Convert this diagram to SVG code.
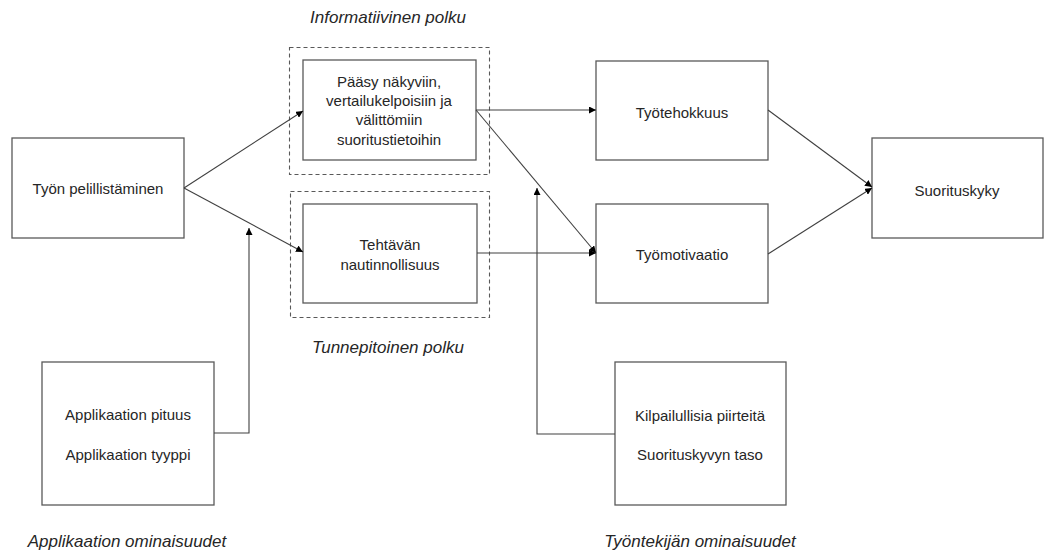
<svg xmlns="http://www.w3.org/2000/svg" width="1045" height="552" viewBox="0 0 1045 552">
  <style>
    .box { fill: #ffffff; stroke: #595959; stroke-width: 1.3; }
    .frame { fill: none; stroke: #595959; stroke-width: 1.1; stroke-dasharray: 4 3; }
    .txt { font-family: "Liberation Sans", Arial, sans-serif; font-size: 15px; fill: #262626; text-anchor: middle; dominant-baseline: central; }
    .cap { font-family: "Liberation Sans", Arial, sans-serif; font-size: 17px; font-style: italic; fill: #262626; text-anchor: middle; dominant-baseline: central; }
    .link { fill: none; stroke: #404040; stroke-width: 1.1; }
  </style>
  <defs>
    <marker id="arrow" viewBox="0 0 10 10" refX="10" refY="5" markerWidth="7" markerHeight="7" markerUnits="userSpaceOnUse" orient="auto">
      <path d="M0,0 L10,5 L0,10 z" fill="#000000"/>
    </marker>
  </defs>

  <rect width="1045" height="552" fill="#ffffff"/>

  <!-- path captions -->
  <text class="cap" x="388" y="17">Informatiivinen polku</text>
  <text class="cap" x="388" y="347">Tunnepitoinen polku</text>
  <text class="cap" x="127" y="541">Applikaation ominaisuudet</text>
  <text class="cap" x="700" y="541">Työntekijän ominaisuudet</text>

  <!-- dashed path frames -->
  <rect class="frame" x="289.5" y="47.5" width="200" height="127"/>
  <rect class="frame" x="290.5" y="191.5" width="199" height="126"/>

  <g id="gamification">
    <rect class="box" x="12" y="138" width="172" height="100"/>
    <text class="txt" x="98" y="188">Työn pelillistäminen</text>
  </g>

  <g id="feedback-access">
    <rect class="box" x="303" y="60" width="173" height="100"/>
    <text class="txt" x="389" y="81">Pääsy näkyviin,</text>
    <text class="txt" x="389" y="100">vertailukelpoisiin ja</text>
    <text class="txt" x="389" y="119">välittömiin</text>
    <text class="txt" x="389" y="139">suoritustietoihin</text>
  </g>

  <g id="enjoyment">
    <rect class="box" x="303" y="204" width="174" height="99"/>
    <text class="txt" x="390" y="244">Tehtävän</text>
    <text class="txt" x="390" y="264">nautinnollisuus</text>
  </g>

  <g id="efficiency">
    <rect class="box" x="596" y="61" width="172" height="99"/>
    <text class="txt" x="682" y="112">Työtehokkuus</text>
  </g>

  <g id="motivation">
    <rect class="box" x="596" y="204" width="172" height="99"/>
    <text class="txt" x="682" y="254">Työmotivaatio</text>
  </g>

  <g id="performance">
    <rect class="box" x="872" y="138" width="171" height="100"/>
    <text class="txt" x="957" y="190">Suorituskyky</text>
  </g>

  <g id="app-traits">
    <rect class="box" x="42" y="362" width="172" height="143"/>
    <text class="txt" x="128" y="414">Applikaation pituus</text>
    <text class="txt" x="128" y="454">Applikaation tyyppi</text>
  </g>

  <g id="employee-traits">
    <rect class="box" x="615" y="362" width="171" height="143"/>
    <text class="txt" x="700" y="415">Kilpailullisia piirteitä</text>
    <text class="txt" x="700" y="454">Suorituskyvyn taso</text>
  </g>

  <g id="connectors">
    <line class="link" x1="184" y1="188" x2="303" y2="111" marker-end="url(#arrow)"/>
    <line class="link" x1="184" y1="188" x2="303" y2="252" marker-end="url(#arrow)"/>
    <polyline class="link" points="214,433 249,433 249,228" marker-end="url(#arrow)"/>
    <line class="link" x1="476" y1="110" x2="596" y2="110" marker-end="url(#arrow)"/>
    <line class="link" x1="476" y1="110" x2="596" y2="253" marker-end="url(#arrow)"/>
    <line class="link" x1="477" y1="253" x2="596" y2="253" marker-end="url(#arrow)"/>
    <polyline class="link" points="615,434 537,434 537,188" marker-end="url(#arrow)"/>
    <line class="link" x1="768" y1="110" x2="872" y2="187" marker-end="url(#arrow)"/>
    <line class="link" x1="768" y1="254" x2="872" y2="188" marker-end="url(#arrow)"/>
  </g>
</svg>
